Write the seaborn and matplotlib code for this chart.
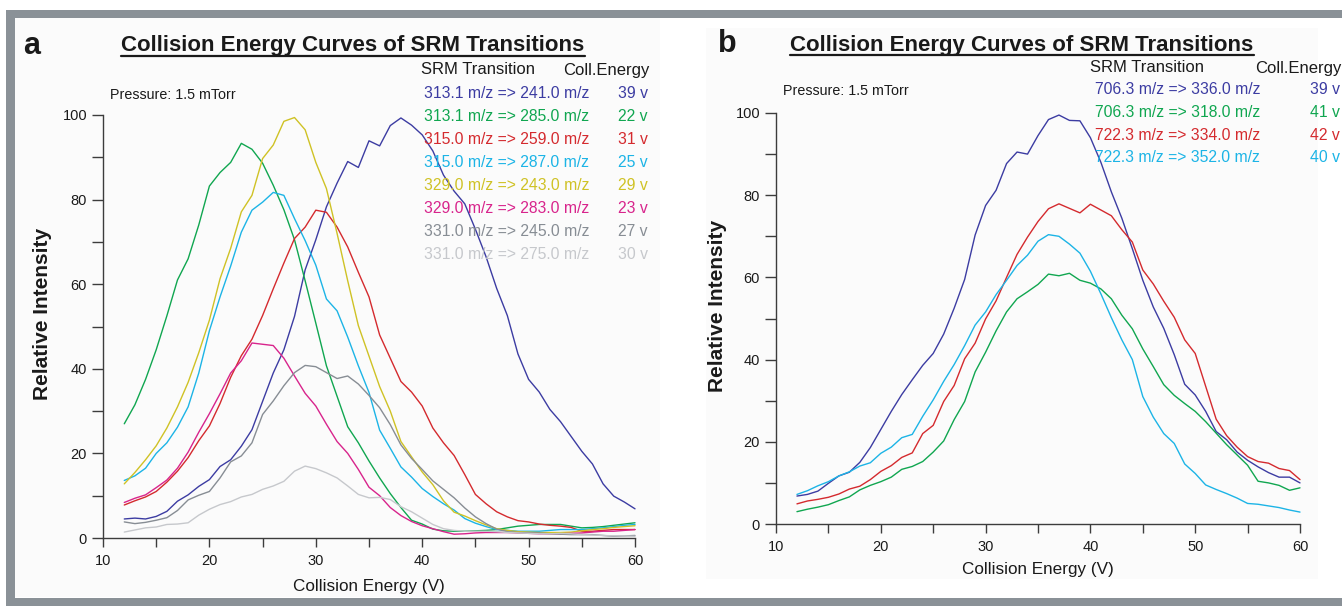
import pandas as pd
import matplotlib
matplotlib.use("Agg")
import matplotlib.pyplot as plt
from matplotlib.patches import Rectangle
from matplotlib.lines import Line2D
from matplotlib.ticker import MultipleLocator
import seaborn as sns

# ------------------------------------------------------------------
# Data (relative intensity, energy 12..60 V)
# ------------------------------------------------------------------
ENERGY = list(range(12, 61))

# panel a
TRANS_A = ["313.1 m/z => 241.0 m/z", "313.1 m/z => 285.0 m/z", "315.0 m/z => 259.0 m/z",
           "315.0 m/z => 287.0 m/z", "329.0 m/z => 243.0 m/z", "329.0 m/z => 283.0 m/z",
           "331.0 m/z => 245.0 m/z", "331.0 m/z => 275.0 m/z"]
CE_A = ["39 v", "22 v", "31 v", "25 v", "29 v", "23 v", "27 v", "30 v"]
COLORS_A = ["#3c3ca2", "#10a650", "#d42a2e", "#1cb4e6", "#cfc225", "#d8248c", "#878d94", "#c6c8cc"]

blue_a = [4.5, 4.7, 4.5, 5.1, 6.3, 8.7, 10.2, 12.2, 13.8, 16.9, 18.5, 21.7, 25.6, 32.3, 39.0, 44.5,
          52.4, 63.4, 70.5, 78.3, 83.9, 89.0, 87.6, 93.9, 92.7, 97.5, 99.3, 97.6, 95.3, 91.5, 85.8,
          82.0, 79.0, 73.0, 66.5, 59.0, 52.6, 43.5, 37.5, 34.5, 30.4, 27.5, 24.0, 20.5, 17.5, 12.8,
          9.9, 8.5, 6.9]
green_a = [27.0, 31.5, 37.5, 44.5, 52.5, 61.0, 66.0, 74.0, 83.2, 86.4, 88.8, 93.3, 91.9, 88.6, 83.4,
           77.6, 70.5, 60.8, 50.8, 40.7, 33.5, 26.3, 22.5, 18.2, 14.2, 10.5, 7.2, 4.2, 3.3, 2.1, 1.7,
           1.6, 1.6, 1.7, 1.8, 2.0, 2.4, 2.8, 3.0, 3.2, 3.2, 3.2, 2.8, 2.4, 2.5, 2.7, 3.0, 3.3, 3.6]
red_a = [7.8, 8.8, 9.7, 11.0, 13.2, 15.8, 19.0, 23.0, 26.5, 31.8, 38.0, 43.1, 47.0, 52.6, 58.9, 65.0,
         70.8, 73.5, 77.5, 77.0, 73.5, 68.8, 62.8, 57.0, 48.0, 42.5, 37.0, 34.5, 31.2, 26.0, 22.5,
         19.5, 15.0, 10.3, 8.1, 6.2, 5.0, 4.1, 3.8, 3.3, 3.0, 2.8, 2.5, 1.6, 1.6, 1.8, 2.0, 2.0, 2.0]
cyan_a = [13.6, 14.7, 16.5, 20.0, 22.5, 26.2, 31.0, 39.0, 49.0, 57.0, 64.3, 72.3, 77.5, 79.4, 81.7,
          81.0, 75.5, 70.3, 64.5, 56.5, 53.7, 47.5, 40.7, 34.4, 25.5, 21.2, 16.8, 14.4, 11.7, 9.8,
          8.1, 6.6, 4.6, 3.5, 2.7, 2.0, 1.8, 1.6, 1.6, 1.6, 1.8, 2.0, 2.0, 2.0, 2.2, 2.4, 2.7, 3.0, 3.2]
yellow_a = [12.8, 15.5, 18.5, 21.8, 26.0, 31.0, 36.8, 43.8, 51.5, 61.3, 68.5, 77.1, 81.0, 89.7, 92.9,
            98.5, 99.4, 96.5, 88.8, 82.6, 72.0, 60.8, 50.2, 43.0, 35.8, 30.0, 22.8, 19.2, 15.6, 12.6,
            8.8, 6.1, 5.2, 4.1, 3.1, 2.2, 1.8, 1.5, 1.4, 1.3, 1.3, 1.3, 1.4, 1.7, 2.0, 2.2, 2.5, 2.7, 2.9]
magenta_a = [8.4, 9.4, 10.2, 11.9, 13.7, 16.5, 20.3, 25.0, 29.4, 34.1, 39.0, 41.9, 46.1, 45.8, 45.5,
             42.5, 38.3, 34.2, 31.2, 26.9, 22.8, 20.0, 16.2, 12.0, 10.0, 7.2, 5.3, 3.9, 2.9, 2.2, 1.5,
             0.9, 1.0, 1.2, 1.3, 1.3, 1.3, 1.2, 1.1, 1.0, 1.0, 1.0, 1.1, 1.2, 1.4, 1.6, 1.6, 1.8, 2.0]
gray_a = [3.8, 3.4, 3.7, 4.2, 4.8, 6.5, 9.0, 10.1, 11.0, 14.2, 18.0, 19.4, 22.5, 29.2, 32.4, 36.0,
          39.1, 40.8, 40.5, 39.1, 37.7, 38.3, 36.4, 33.7, 30.8, 26.8, 22.0, 18.8, 16.2, 13.5, 11.5,
          9.5, 7.1, 5.0, 3.4, 2.1, 1.5, 1.3, 1.2, 1.2, 1.0, 0.9, 0.8, 0.8, 0.8, 0.6, 0.4, 0.5, 0.6]
ltgray_a = [1.4, 1.9, 2.4, 2.6, 3.2, 3.3, 3.6, 5.4, 6.8, 7.9, 8.6, 9.7, 10.3, 11.5, 12.3, 13.4, 15.8,
            17.0, 16.4, 15.4, 14.2, 12.3, 10.3, 9.5, 9.6, 9.1, 7.4, 6.2, 4.7, 3.2, 2.2, 1.8, 1.6, 1.6,
            1.6, 1.5, 1.3, 1.2, 1.1, 1.0, 1.0, 1.1, 1.0, 0.8, 0.7, 0.6, 0.5, 0.5, 0.4]
SERIES_A = [blue_a, green_a, red_a, cyan_a, yellow_a, magenta_a, gray_a, ltgray_a]

# panel b
TRANS_B = ["706.3 m/z => 336.0 m/z", "706.3 m/z => 318.0 m/z",
           "722.3 m/z => 334.0 m/z", "722.3 m/z => 352.0 m/z"]
CE_B = ["39 v", "41 v", "42 v", "40 v"]
COLORS_B = ["#3c3ca2", "#10a650", "#d42a2e", "#1cb4e6"]

blue_b = [6.8, 7.2, 8.0, 9.9, 11.7, 12.6, 15.0, 18.6, 23.0, 27.4, 31.5, 35.1, 38.6, 41.5, 46.2, 52.5,
          59.5, 70.3, 77.5, 81.2, 87.7, 90.5, 90.0, 94.5, 98.4, 99.5, 98.2, 98.1, 94.0, 88.0, 80.8,
          74.4, 67.0, 59.3, 52.8, 47.6, 41.2, 34.0, 31.4, 27.4, 22.5, 20.5, 17.5, 15.5, 13.9, 12.5,
          11.4, 11.4, 10.0]
green_b = [3.0, 3.6, 4.1, 4.7, 5.7, 6.6, 8.3, 9.4, 10.3, 11.4, 13.3, 14.0, 15.2, 17.5, 20.2, 25.4,
           29.8, 37.0, 41.8, 47.0, 51.6, 54.8, 56.5, 58.3, 60.8, 60.4, 61.0, 59.3, 58.6, 57.2, 54.8,
           50.8, 47.5, 42.6, 38.3, 33.9, 31.3, 29.3, 27.4, 24.9, 22.1, 19.3, 16.8, 14.3, 10.4, 10.0,
           9.4, 8.2, 8.8]
red_b = [4.9, 5.6, 6.0, 6.5, 7.3, 8.5, 9.2, 10.8, 12.8, 14.2, 16.2, 17.3, 22.0, 24.0, 29.8, 33.7,
         40.2, 44.0, 49.9, 54.3, 60.0, 65.6, 69.8, 73.6, 76.7, 77.9, 76.8, 75.7, 77.8, 76.4, 75.0,
         71.6, 68.6, 61.8, 58.4, 54.2, 50.3, 44.8, 41.5, 33.5, 25.5, 21.5, 18.7, 16.4, 15.2, 14.8,
         13.5, 13.0, 10.8]
cyan_b = [7.2, 8.1, 9.3, 10.3, 11.7, 12.7, 14.1, 14.9, 17.2, 18.7, 21.0, 21.8, 26.2, 30.2, 34.7, 38.8,
          43.4, 48.4, 51.6, 55.8, 59.3, 62.9, 65.4, 68.8, 70.4, 70.0, 68.1, 65.9, 61.5, 56.0, 50.2,
          44.8, 40.0, 31.0, 26.0, 22.0, 19.6, 14.6, 12.3, 9.5, 8.4, 7.4, 6.3, 5.0, 4.8, 4.4, 4.0,
          3.4, 2.9]
SERIES_B = [blue_b, green_b, red_b, cyan_b]

TITLE = "Collision Energy Curves of SRM Transitions"
PRESSURE = "Pressure: 1.5 mTorr"

# ------------------------------------------------------------------
# Style
# ------------------------------------------------------------------
sns.set_style("white")
plt.rcParams["font.family"] = ["Liberation Sans", "DejaVu Sans"]
TXT = "#1a1a1a"
AX = "#3c3c3c"

W, H = 1342, 608
fig = plt.figure(figsize=(W / 100, H / 100), dpi=100)
fig.patch.set_facecolor("white")


def px(x, y):
    """pixel position (from top-left) -> figure fraction"""
    return x / W, 1 - y / H


def frect(x0, y0, x1, y1, color):
    fig.patches.append(Rectangle(px(x0, y1), (x1 - x0) / W, (y1 - y0) / H,
                                 transform=fig.transFigure, color=color, zorder=-10, lw=0))


# grey frame and faint panel backgrounds
frect(6, 10, W, 18, "#8a9197")
frect(6, 10, 15, 606, "#8a9197")
frect(6, 598, W, 606, "#8a9197")
frect(15, 18, 660, 597, "#fbfbfb")
frect(706, 28, 1318, 579, "#fbfbfb")


def make_panel(rect, series, trans, colors, xlabelpad, ylabel_x):
    ax = fig.add_axes(rect)
    long = pd.concat([pd.DataFrame({"energy": ENERGY, "intensity": vals, "transition": t})
                      for vals, t in zip(series, trans)], ignore_index=True)
    sns.lineplot(data=long, x="energy", y="intensity", hue="transition", hue_order=trans,
                 palette=colors, linewidth=1.0, legend=False, ax=ax, clip_on=False)
    ax.set_xlim(10, 60)
    ax.set_ylim(0, 100)
    ax.set_facecolor("none")
    sns.despine(ax=ax)
    for s in ("left", "bottom"):
        ax.spines[s].set_color(AX)
        ax.spines[s].set_linewidth(1.0)
    ax.xaxis.set_major_locator(MultipleLocator(10))
    ax.xaxis.set_minor_locator(MultipleLocator(5))
    ax.yaxis.set_major_locator(MultipleLocator(20))
    ax.yaxis.set_minor_locator(MultipleLocator(10))
    ax.tick_params(axis="both", which="both", direction="out", color=AX, width=1.0,
                   labelsize=10.5, labelcolor=TXT)
    ax.tick_params(axis="y", which="both", length=8, left=True)
    ax.tick_params(axis="x", which="both", length=6.5, bottom=True, pad=5)
    ax.set_xlabel("Collision Energy (V)", fontsize=12.3, color=TXT, labelpad=xlabelpad)
    ax.set_ylabel("Relative Intensity", fontsize=15, fontweight="bold", color=TXT)
    ax.yaxis.set_label_coords(ylabel_x, 0.53)
    return ax


ax_a = make_panel([103 / W, (H - 538) / H, 532 / W, 423 / H], SERIES_A, TRANS_A, COLORS_A, 8, -0.096)
ax_b = make_panel([776 / W, (H - 524) / H, 524 / W, 411 / H], SERIES_B, TRANS_B, COLORS_B, 6, -0.094)

# panel letters and titles
fig.text(*px(23, 46), "a", fontsize=22, fontweight="bold", color=TXT, va="center")
fig.text(*px(718, 44), "b", fontsize=22, fontweight="bold", color=TXT, va="center")
titles = [fig.text(*px(353, 46), TITLE, fontsize=16, fontweight="bold", color=TXT,
                   ha="center", va="center"),
          fig.text(*px(1022, 45), TITLE, fontsize=16, fontweight="bold", color=TXT,
                   ha="center", va="center")]

# legend-like text blocks
fig.text(*px(110, 95), PRESSURE, fontsize=10.3, color=TXT, va="center")
fig.text(*px(421, 70), "SRM Transition", fontsize=12, color=TXT, va="center")
fig.text(*px(650, 70), "Coll.Energy", fontsize=12, color=TXT, va="center", ha="right")
for i, (t, ce, c) in enumerate(zip(TRANS_A, CE_A, COLORS_A)):
    y = 94 + i * 22.9
    fig.text(*px(424, y), t, fontsize=11.3, color=c, va="center")
    fig.text(*px(648, y), ce, fontsize=11.3, color=c, va="center", ha="right")

fig.text(*px(783, 91), PRESSURE, fontsize=10.3, color=TXT, va="center")
fig.text(*px(1090, 68), "SRM Transition", fontsize=12, color=TXT, va="center")
fig.text(*px(1342, 68), "Coll.Energy", fontsize=12, color=TXT, va="center", ha="right")
for i, (t, ce, c) in enumerate(zip(TRANS_B, CE_B, COLORS_B)):
    y = 90 + i * 22.5
    fig.text(*px(1095, y), t, fontsize=11.3, color=c, va="center")
    fig.text(*px(1340, y), ce, fontsize=11.3, color=c, va="center", ha="right")

# underline the titles
fig.canvas.draw()
renderer = fig.canvas.get_renderer()
for t in titles:
    bb = t.get_window_extent(renderer)
    yline = (bb.y0 + 1) / H
    fig.add_artist(Line2D([bb.x0 / W, bb.x1 / W], [yline, yline], transform=fig.transFigure,
                          color=TXT, linewidth=1.6))

fig.savefig("out.png", dpi=100)
